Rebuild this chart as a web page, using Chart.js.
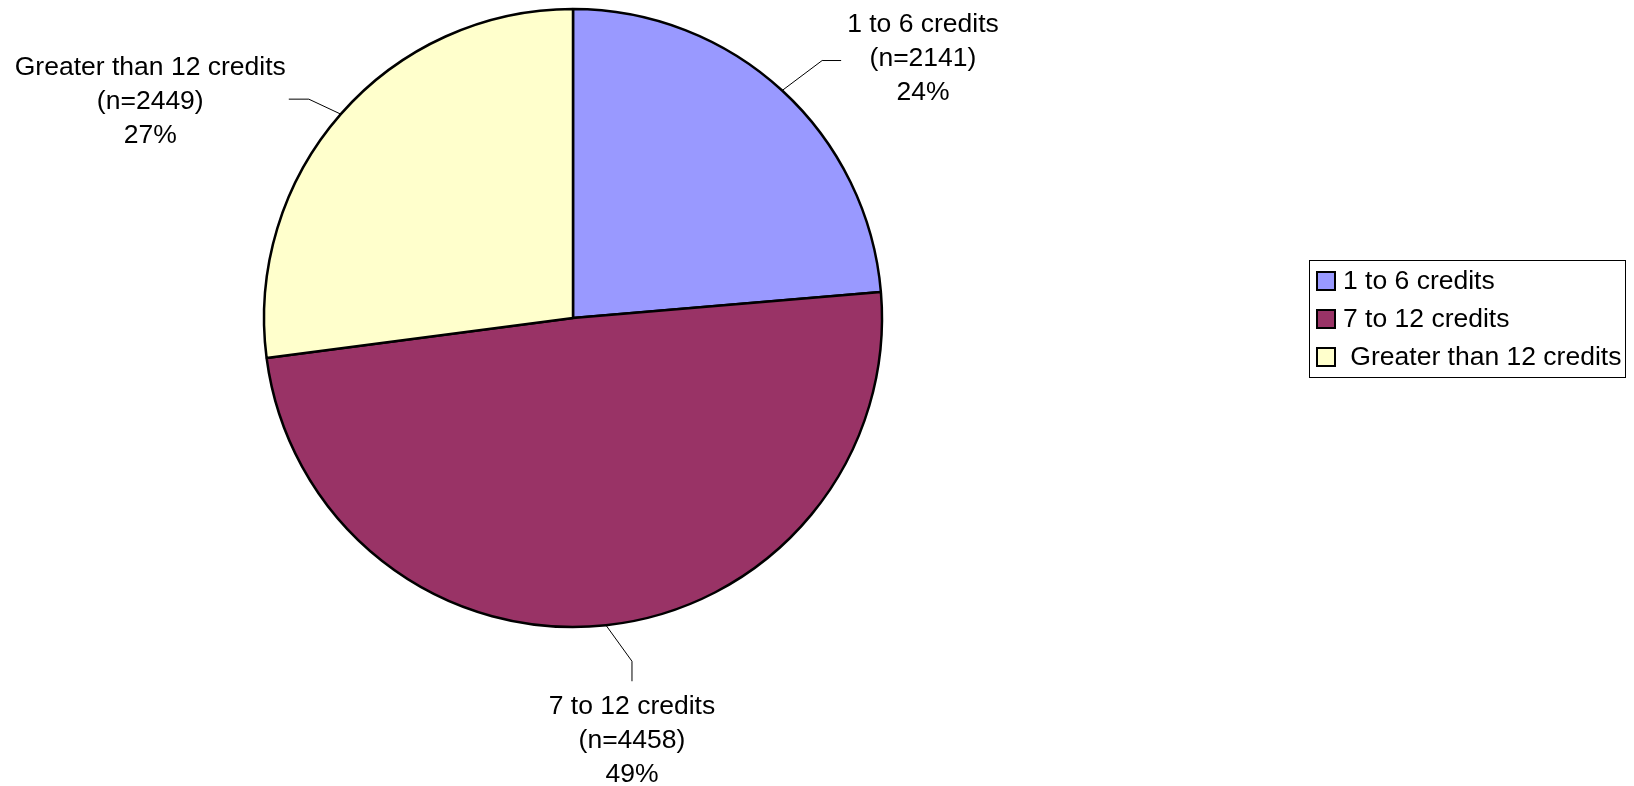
<!DOCTYPE html>
<html>
<head>
<meta charset="utf-8">
<script src="https://cdn.jsdelivr.net/npm/chart.js@4"></script>
<style>
  body { margin: 0; background: #fff; }
  #wrap { width: 1634px; height: 786px; position: relative; }
</style>
</head>
<body>
<div id="wrap"><canvas id="myChart"></canvas></div>
<script>
// data
var categories = ['1 to 6 credits', '7 to 12 credits', ' Greater than 12 credits'];
var counts = [2141, 4458, 2449];
var percents = [24, 49, 27];
var colors = ['#9999FF', '#993366', '#FFFFCC'];

var FONT = '26.5px "Liberation Sans", Arial, sans-serif';

// leader lines: from slice edge to an elbow, then a short straight piece, then the text
var leaders = [
  {elbow: [40, -30], end: [19, 0], side: 'right'},
  {elbow: [26, 36], end: [0, 20], side: 'below'},
  {elbow: [-32, -15], end: [-20, 0], side: 'left'}
];

var labelPlugin = {
  id: 'sliceLabels',
  afterDraw: function(chart) {
    var ctx = chart.ctx;
    var arcs = chart.getDatasetMeta(0).data;
    ctx.save();
    ctx.font = FONT;
    ctx.fillStyle = '#000';
    ctx.strokeStyle = '#000';
    ctx.lineWidth = 1;
    arcs.forEach(function(arc, i) {
      var p = arc.getProps(['x', 'y', 'startAngle', 'endAngle', 'outerRadius'], true);
      var mid = (p.startAngle + p.endAngle) / 2;
      var sx = p.x + Math.cos(mid) * p.outerRadius;
      var sy = p.y + Math.sin(mid) * p.outerRadius;
      var L = leaders[i];
      var ex = sx + L.elbow[0], ey = sy + L.elbow[1];
      var tx = ex + L.end[0], ty = ey + L.end[1];
      ctx.beginPath();
      ctx.moveTo(sx, sy);
      ctx.lineTo(ex, ey);
      ctx.lineTo(tx, ty);
      ctx.stroke();

      var lines = [categories[i].trim(), '(n=' + counts[i] + ')', percents[i] + '%'];
      var w = Math.max.apply(null, lines.map(function(l) { return ctx.measureText(l).width; }));
      var cx, cy;
      if (L.side === 'right') { cx = tx + 6 + w / 2; cy = ty - 36; }
      else if (L.side === 'left') { cx = tx - 3 - w / 2; cy = ty - 31; }
      else { cx = tx; cy = ty + 25; }
      ctx.textAlign = 'center';
      ctx.textBaseline = 'middle';
      lines.forEach(function(l, k) { ctx.fillText(l, cx, cy + k * 34); });
    });
    ctx.restore();
  }
};

// boxed legend on the right, like the original
var legendPlugin = {
  id: 'boxLegend',
  afterDraw: function(chart) {
    var ctx = chart.ctx;
    var ds = chart.data.datasets[0];
    var bx = 1309, by = 260, bw = 316, bh = 117;
    ctx.save();
    ctx.strokeStyle = '#000';
    ctx.lineWidth = 1;
    ctx.strokeRect(bx + 0.5, by + 0.5, bw, bh);
    ctx.font = FONT;
    ctx.textAlign = 'left';
    ctx.textBaseline = 'middle';
    chart.data.labels.forEach(function(lab, i) {
      var y = by + 21 + i * 38;
      ctx.fillStyle = ds.backgroundColor[i];
      ctx.fillRect(bx + 8, y - 9, 18, 18);
      ctx.lineWidth = 2;
      ctx.strokeRect(bx + 8, y - 9, 18, 18);
      ctx.fillStyle = '#000';
      ctx.fillText(lab, bx + 34, y + 1);
    });
    ctx.restore();
  }
};

var ctx = document.getElementById('myChart');

var myChart = new Chart(ctx, {
  type: 'pie',
  data: {
    labels: categories,
    datasets: [{
      data: counts,
      backgroundColor: colors,
      borderColor: '#000',
      borderWidth: 2.5
    }]
  },
  options: {
    responsive: true,
    maintainAspectRatio: false,
    animation: false,
    radius: 309,
    layout: { padding: { left: 0, right: 488, top: 0, bottom: 150 } },
    plugins: {
      legend: { display: false },
      tooltip: { enabled: false }
    }
  },
  plugins: [labelPlugin, legendPlugin]
});
</script>
</body>
</html>
